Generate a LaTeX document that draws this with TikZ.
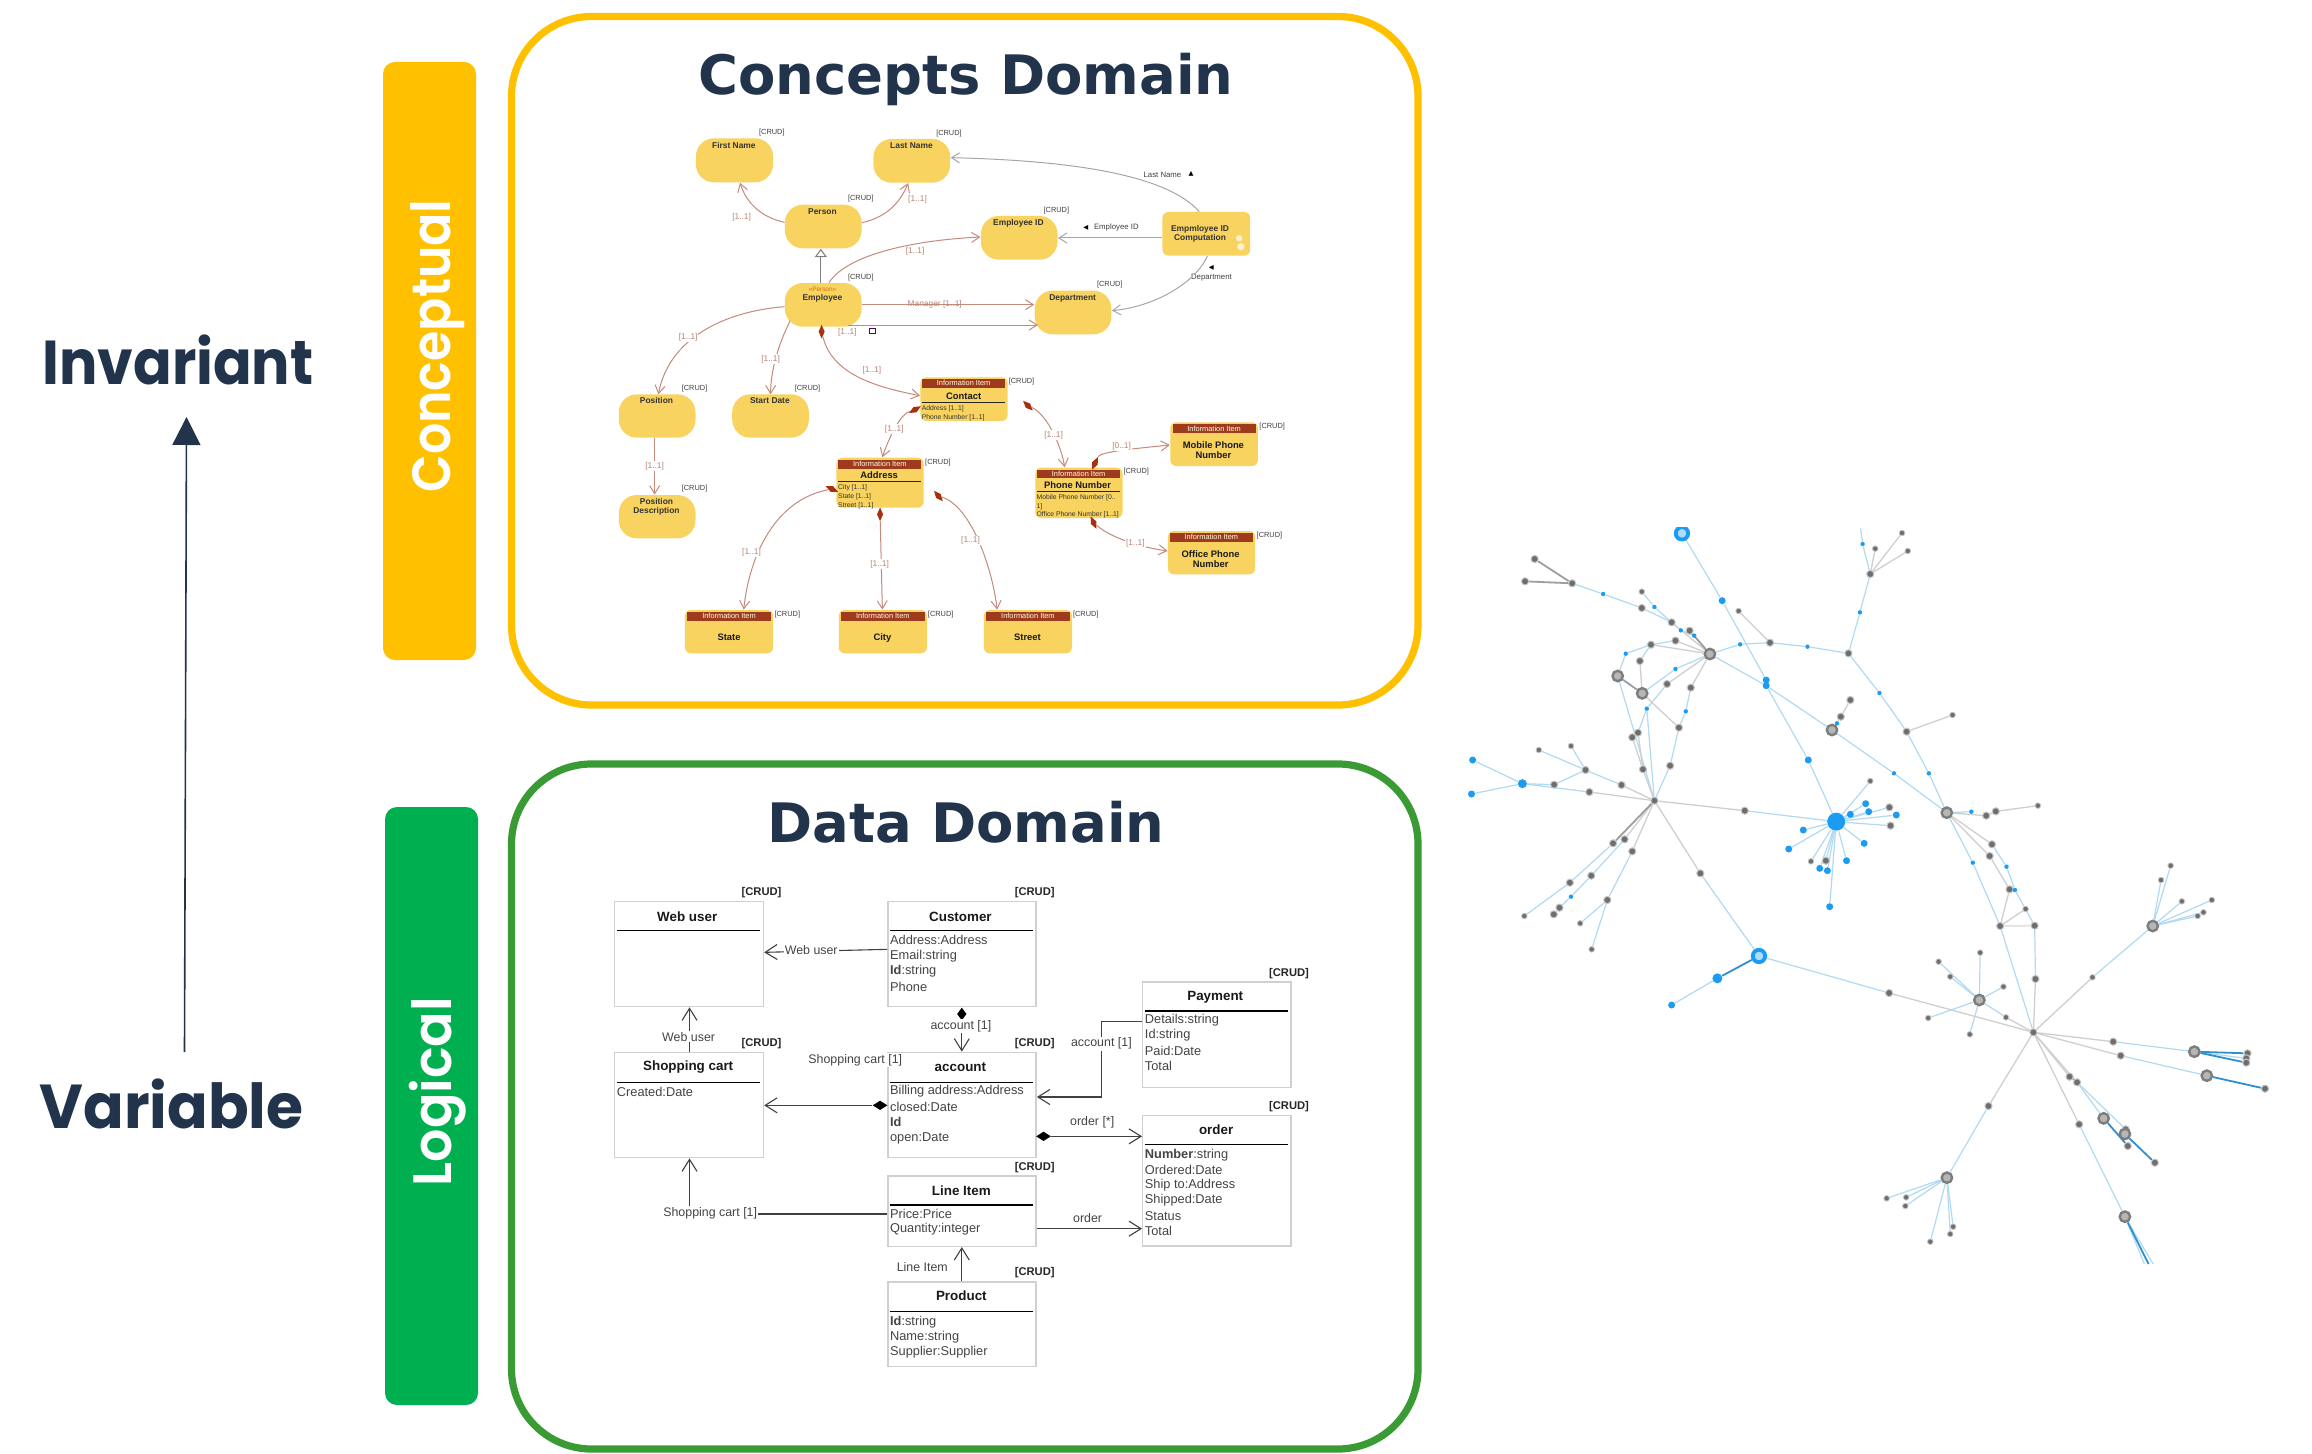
\documentclass[tikz,border=0pt]{standalone}
\usepackage{fontspec}
\setmainfont{Liberation Sans}
\newfontfamily\pop{Poppins}
\newfontfamily\popm{Poppins}[UprightFont=* SemiBold]
\newfontfamily\djv{DejaVu Sans}
\usetikzlibrary{arrows.meta,fit,shapes.geometric}
\definecolor{navy}{HTML}{21344C}
\definecolor{yel}{HTML}{FFC000}
\definecolor{grnbar}{HTML}{00B050}
\definecolor{grnfr}{HTML}{3A9B35}
\definecolor{oval}{HTML}{F8D35F}
\definecolor{hdrc}{HTML}{9E3B1E}
\definecolor{rose}{HTML}{C48A7B}
\definecolor{rosetxt}{HTML}{B98475}
\definecolor{dgem}{HTML}{A8300F}
\definecolor{bluen}{HTML}{1C9BF2}
\definecolor{grayn}{HTML}{6E6E6E}
\definecolor{bedge}{HTML}{B0DAF2}
\definecolor{gedge}{HTML}{CFCFCF}
\definecolor{dbedge}{HTML}{2F8FD0}
\definecolor{umlg}{HTML}{D0D0D0}
\definecolor{txtg}{HTML}{444444}
\pgfdeclarelayer{bg}
\pgfsetlayers{bg,main}
\newcounter{txt}
\newcommand{\lbl}[3][]{\stepcounter{txt}\node[#1] (t\arabic{txt}) at (#2) {#3};}
\newcommand{\G}[3]{\node[#1] (#2) at (#3) {};}
\newcommand{\E}[3]{\draw[#1] (#2) -- (#3);}
\tikzset{
  frame/.style={line width=3.6pt,rounded corners=40pt,inner sep=0pt},
  bar/.style={rounded corners=6pt,inner sep=0pt},
  bart/.style={inner sep=0pt,text=white,font=\popm\fontsize{27}{27}\selectfont},
  bigt/.style={text=navy,font=\pop\bfseries\fontsize{31}{31}\selectfont,inner sep=0pt},
  domt/.style={text=navy,font=\djv\bfseries\fontsize{27.2}{27}\selectfont,inner sep=0pt},
  ybox/.style={fill=oval,inner sep=0pt,rounded corners=9pt},
  ibox/.style={fill=oval,inner sep=0pt,rounded corners=3pt},
  hdrt/.style={inner sep=0pt,text=white!90!yellow,font=\fontsize{3.7}{4}\selectfont},
  hdr/.style={fill=hdrc,inner sep=0pt,label={[hdrt]center:Information Item}},
  ct/.style={inner sep=0pt,text=black!80,font=\bfseries\fontsize{4.2}{5}\selectfont},
  cb/.style={inner sep=0pt,text=black!90,font=\bfseries\fontsize{4.7}{5}\selectfont},
  ca/.style={inner sep=0pt,anchor=west,text=black!80,font=\fontsize{3.4}{4}\selectfont},
  cc/.style={inner sep=0pt,text=black!75,font=\fontsize{3.7}{4}\selectfont},
  cl/.style={inner sep=.4pt,text=rosetxt,font=\fontsize{4.2}{5}\selectfont},
  clw/.style={cl,fill=white},
  cg/.style={inner sep=0pt,text=black!75,font=\fontsize{3.9}{5}\selectfont},
  ce/.style={draw=rose,line width=.5pt,-{Straight Barb[length=4pt,width=5pt]}},
  ceg/.style={draw=black!35,line width=.5pt,-{Straight Barb[length=4pt,width=5pt]}},
  dia/.style={diamond,fill=dgem,inner sep=0pt,minimum width=3.2pt,minimum height=7pt},
  ubox/.style={draw=umlg,line width=.7pt,fill=white,inner sep=0pt},
  ut/.style={inner sep=0pt,text=black!90,font=\bfseries\fontsize{6.7}{8}\selectfont},
  ua/.style={inner sep=0pt,anchor=west,text=txtg,font=\fontsize{6.4}{7}\selectfont},
  uc/.style={inner sep=0pt,anchor=east,text=black!85,font=\bfseries\fontsize{5.6}{7}\selectfont},
  ul/.style={inner sep=.6pt,text=txtg,font=\fontsize{6.2}{7}\selectfont},
  ulw/.style={ul,fill=white},
  ue/.style={draw=black!75,line width=.55pt,-{Straight Barb[length=6pt,width=7.5pt]}},
  udia/.style={diamond,fill=black,inner sep=0pt,minimum width=7.5pt,minimum height=4.8pt},
  udiav/.style={diamond,fill=black,inner sep=0pt,minimum width=4.8pt,minimum height=6.5pt},
  gn/.style={circle,fill=grayn,draw=grayn!40,line width=.5pt,inner sep=0pt,minimum size=3.6pt},
  gs/.style={circle,fill=grayn,draw=grayn!40,line width=.4pt,inner sep=0pt,minimum size=2.8pt},
  gb/.style={circle,fill=grayn!50,draw=grayn!90,line width=1.2pt,inner sep=0pt,minimum size=5.2pt},
  bn/.style={circle,fill=bluen,inner sep=0pt,minimum size=3.5pt},
  bs/.style={circle,fill=bluen,inner sep=0pt,minimum size=2.2pt},
  bb/.style={circle,fill=bluen!35,draw=bluen,line width=1.9pt,inner sep=0pt,minimum size=6.2pt},
  hb/.style={circle,fill=bluen,inner sep=0pt,minimum size=9pt},
  el/.style={draw=bedge,line width=.6pt},
  eg/.style={draw=gedge,line width=.65pt},
  ed/.style={draw=black!38,line width=.9pt},
  eb/.style={draw=dbedge,line width=.9pt},
  ef/.style={draw=black!10,line width=1pt},
}
\begin{document}
\begin{tikzpicture}[x=0.5pt,y=-0.5pt]
\useasboundingbox (0,0) rectangle (2312,1454);
\begin{pgfonlayer}{bg}\fill[white] (0,0) rectangle (2312,1454);\end{pgfonlayer}

% left labels
\node[bigt,anchor=base,xscale=.919] (inv) at (178,385) {Invariant};
\node[bigt,anchor=base,xscale=.967] (var) at (171.5,1128) {Variable};
\coordinate (arS) at (184.5,1052);
\coordinate (arE) at (186.5,417);
\draw[navy,line width=.8pt,-{Triangle[length=14pt,width=14pt]}] (arS) -- (arE);

% bars
\node[bar,fill=yel,fit={(383,62)(476,660)}] (bc) {};
\node[bar,fill=grnbar,fit={(385,807)(478,1405)}] (bl) {};
\node[bart,rotate=90,anchor=base,xscale=.91] (bct) at (450,346) {Conceptual};
\node[bart,rotate=90,anchor=base,xscale=.97] (blt) at (451,1091.5) {Logical};

% frames
\node[frame,draw=yel,fit={(511.5,16.5)(1418,705)}] (fc) {};
\node[frame,draw=grnfr,fit={(511.5,764)(1418,1449)}] (fd) {};
\node[domt,anchor=base] (tc) at (966,95) {Concepts Domain};
\node[domt,anchor=base] (td) at (966,842) {Data Domain};

% ---------- concepts diagram, upper part
\begin{scope}[shift={(640,110)},x=0.20408pt,y=-0.16667pt]
\node[ybox,fit={(137,85)(326,217)}] (first) {};
\node[ybox,fit={(572,87)(760,218)}] (last) {};
\node[ybox,fit={(355,284)(543,415)}] (person) {};
\node[ybox,fit={(835,318)(1023,449)}] (empid) {};
\node[ybox,fit={(355,519)(543,650)}] (emp) {};
\node[ybox,fit={(967,542)(1155,673)}] (dept) {};
\node[ibox,fit={(1280,306)(1495,437)}] (comp) {};
\lbl[ct]{230,106}{First Name}
\lbl[cc]{323,68}{[CRUD]}
\lbl[ct]{665,108}{Last Name}
\lbl[cc]{757,70}{[CRUD]}
\lbl[ct]{447,304}{Person}
\lbl[cc]{541,266}{[CRUD]}
\lbl[ct]{927,339}{Employee ID}
\lbl[cc]{1020,302}{[CRUD]}
\lbl[inner sep=0pt,text=orange!85!black,font=\fontsize{3.2}{4}\selectfont]{447,539}{«Person»}
\lbl[ct]{447,566}{Employee}
\lbl[cc]{541,502}{[CRUD]}
\lbl[ct]{1060,564}{Department}
\lbl[cc]{1151,524}{[CRUD]}
\lbl[ct]{1372,357}{Empmloyee ID}
\lbl[ct]{1372,385}{Computation}
\G{circle,fill=white!70!oval,inner sep=0pt,minimum size=3.2pt}{g1}{1468,385}
\G{circle,fill=white!70!oval,inner sep=0pt,minimum size=3.6pt}{g2}{1472,410}

\draw[ce] (person.west |- 0,337) .. controls (290,320) and (258,270) .. (245,0 |- first.south);
\draw[ce] (person.east |- 0,338) .. controls (610,320) and (640,270) .. (657,0 |- last.south);
\draw[draw=black!50,line width=.55pt,-{Triangle[open,length=4.2pt,width=6pt]}] (443,0 |- emp.north) -- (443,0 |- person.south);
\draw[ce] (463,0 |- emp.north) .. controls (510,430) and (680,390) .. (empid.west |- 0,381);
\draw[ceg] (1370,0 |- comp.north) .. controls (1280,180) and (1000,150) .. (last.east |- 0,143);
\draw[ceg] (comp.west |- 0,384) -- (empid.east |- 0,384);
\draw[ceg] (1390,0 |- comp.south) .. controls (1360,520) and (1260,590) .. (dept.east |- 0,602);
\draw[ce] (emp.east |- 0,584) -- (dept.west |- 0,584);
\draw[ce] (510,0 |- 0,645) -- (975,0 |- 0,645);
\draw[ce] (emp.west |- 0,590) .. controls (200,605) and (70,690) .. (45,853);
\draw[ce] (368,632) .. controls (340,700) and (320,780) .. (320,853);
\G{dia}{de}{445,665}
\lbl[cl]{249,322}{[1..1]}
\lbl[cl]{680,267}{[1..1]}
\lbl[cl]{674,424}{[1..1]}
\lbl[cl]{722,584}{Manager [1..1]}
\lbl[cl]{508,668}{[1..1]}
\G{draw=violet!70!black,line width=.4pt,fill=white,inner sep=0pt,minimum size=2.8pt}{sq}{569,663}
\lbl[clw]{118,681}{[1..1]}
\lbl[clw]{320,747}{[1..1]}
\lbl[cl]{568,781}{[1..1]}
\lbl[cg]{1280,194}{Last Name}
\lbl[inner sep=0pt,font=\djv\fontsize{3.2}{4}\selectfont]{1350,193}{▲}
\lbl[cg]{1167,353}{Employee ID}
\lbl[inner sep=0pt,font=\djv\fontsize{3.2}{4}\selectfont]{1092,353}{◀}
\lbl[cg,fill=white]{1400,503}{Department}
\lbl[inner sep=0pt,font=\djv\fontsize{3.2}{4}\selectfont]{1400,473}{◀}
\end{scope}

% ---------- concepts diagram, lower part
\begin{scope}[shift={(600,370)},x=0.22957pt,y=-0.16667pt]
\node[ybox,fit={(41,73)(208,203)}] (pos) {};
\node[ybox,fit={(288,73)(455,203)}] (start) {};
\node[ybox,fit={(41,375)(208,505)}] (posd) {};
\node[ibox,fit={(698,22)(888,153)}] (contact) {};
\node[ibox,fit={(515,263)(705,413)}] (addr) {};
\node[ibox,fit={(948,293)(1138,444)}] (phone) {};
\node[ibox,fit={(1242,157)(1433,288)}] (mobile) {};
\node[ibox,fit={(1237,483)(1427,613)}] (office) {};
\node[ibox,fit={(185,720)(377,850)}] (state) {};
\node[ibox,fit={(520,720)(712,850)}] (city) {};
\node[ibox,fit={(836,720)(1028,850)}] (street) {};
\node[hdr,fit={(702,27)(882,53)}] (h1) {};
\node[hdr,fit={(519,270)(700,296)}] (h2) {};
\node[hdr,fit={(952,299)(1133,325)}] (h3) {};
\node[hdr,fit={(1247,163)(1428,189)}] (h4) {};
\node[hdr,fit={(1241,489)(1422,515)}] (h5) {};
\node[hdr,fit={(190,726)(372,752)}] (h6) {};
\node[hdr,fit={(525,726)(707,752)}] (h7) {};
\node[hdr,fit={(841,726)(1023,752)}] (h8) {};
\draw[black!85,line width=.4pt] (702,97) -- (882,97);
\draw[black!85,line width=.4pt] (519,335) -- (700,335);
\draw[black!85,line width=.4pt] (952,364) -- (1133,364);
\lbl[ct]{123,92}{Position}
\lbl[cc]{206,55}{[CRUD]}
\lbl[ct]{370,92}{Start Date}
\lbl[cc]{452,55}{[CRUD]}
\lbl[ct]{123,394}{Position}
\lbl[ct]{123,425}{Description}
\lbl[cc]{206,357}{[CRUD]}
\lbl[cb]{792,79}{Contact}
\lbl[ca]{700,116}{Address [1..1]}
\lbl[ca]{700,142}{Phone Number [1..1]}
\lbl[cc]{918,35}{[CRUD]}
\lbl[cb]{608,315}{Address}
\lbl[ca]{518,354}{City [1..1]}
\lbl[ca]{518,381}{State [1..1]}
\lbl[ca]{518,407}{Street [1..1]}
\lbl[cc]{736,277}{[CRUD]}
\lbl[cb]{1040,346}{Phone Number}
\lbl[ca]{950,383}{Mobile Phone Number [0..}
\lbl[ca]{950,409}{1]}
\lbl[ca]{950,435}{Office Phone Number [1..1]}
\lbl[cc]{1168,306}{[CRUD]}
\lbl[cb]{1336,226}{Mobile Phone}
\lbl[cb]{1336,255}{Number}
\lbl[cc]{1464,170}{[CRUD]}
\lbl[cb]{1330,552}{Office Phone}
\lbl[cb]{1330,581}{Number}
\lbl[cc]{1458,496}{[CRUD]}
\lbl[cb]{281,803}{State}
\lbl[cc]{408,734}{[CRUD]}
\lbl[cb]{615,803}{City}
\lbl[cc]{742,734}{[CRUD]}
\lbl[cb]{931,803}{Street}
\lbl[cc]{1058,734}{[CRUD]}
\G{dia,rotate=-60}{d1}{686,119}
\G{dia,rotate=45}{d2}{932,107}
\G{dia,rotate=65}{d3}{505,357}
\G{dia}{d4}{610,433}
\G{dia,rotate=40}{d5}{737,378}
\G{dia,rotate=-25}{d6}{1078,280}
\G{dia,rotate=25}{d7}{1075,458}
\draw[ce] (d1) .. controls (650,135) and (625,220) .. (615,0 |- addr.north);
\draw[ce] (d2) .. controls (975,135) and (1005,230) .. (1012,0 |- phone.north);
\draw[ce] (119,0 |- pos.south) -- (119,0 |- posd.north);
\draw[ce] (d3) .. controls (380,390) and (325,560) .. (313,0 |- state.north);
\draw[ce] (d4) -- (615,0 |- city.north);
\draw[ce] (d5) .. controls (810,410) and (855,600) .. (865,0 |- street.north);
\draw[ce] (d6) .. controls (1090,245) and (1170,235) .. (mobile.west |- 0,225);
\draw[ce] (d7) .. controls (1110,500) and (1170,530) .. (office.west |- 0,543);
\draw[ce] (de) .. controls (505,10) and (595,50) .. (contact.west |- 0,77);
\lbl[clw]{641,177}{[1..1]}
\lbl[clw]{988,195}{[1..1]}
\lbl[clw]{119,288}{[1..1]}
\lbl[clw]{330,547}{[1..1]}
\lbl[clw]{609,582}{[1..1]}
\lbl[clw]{807,512}{[1..1]}
\lbl[clw]{1136,230}{[0..1]}
\lbl[clw]{1166,520}{[1..1]}
\end{scope}

% ---------- UML
\begin{scope}[shift={(600,870)},x=0.22957pt,y=-0.16667pt]
\node[ubox,fit={(32,95)(356,410)}] (web) {};
\node[ubox,fit={(627,95)(950,410)}] (cust) {};
\node[ubox,fit={(1182,336)(1505,652)}] (pay) {};
\node[ubox,fit={(32,547)(356,863)}] (cart) {};
\node[ubox,fit={(627,547)(950,863)}] (acc) {};
\node[ubox,fit={(1182,736)(1505,1128)}] (ord) {};
\node[ubox,fit={(627,918)(950,1129)}] (line) {};
\node[ubox,fit={(627,1236)(950,1490)}] (prod) {};
\foreach \a/\b/\yy in {36/348/182,631/943/182,1186/1498/423,36/348/637,631/943/637,1186/1498/823,631/943/1005,631/943/1325}
  \draw[black,line width=.6pt] (\a,\yy) -- (\b,\yy);
\lbl[ut]{190,140}{Web user}
\lbl[uc]{396,68}{[CRUD]}
\lbl[ut]{785,140}{Customer}
\lbl[uc]{991,68}{[CRUD]}
\lbl[ua]{631,209}{Address:Address}
\lbl[ua]{631,258}{Email:string}
\lbl[ua]{631,305}{\textbf{Id}:string}
\lbl[ua]{631,350}{Phone}
\lbl[ut]{1340,381}{Payment}
\lbl[uc]{1545,310}{[CRUD]}
\lbl[ua]{1186,452}{Details:string}
\lbl[ua]{1186,497}{Id:string}
\lbl[ua]{1186,543}{Paid:Date}
\lbl[ua]{1186,588}{Total}
\lbl[ut]{192,592}{Shopping cart}
\lbl[uc]{396,520}{[CRUD]}
\lbl[ua]{36,665}{Created:Date}
\lbl[ut]{785,592}{account}
\lbl[uc]{991,520}{[CRUD]}
\lbl[ua]{631,665}{Billing address:Address}
\lbl[ua]{631,711}{closed:Date}
\lbl[ua]{631,757}{\textbf{Id}}
\lbl[ua]{631,806}{open:Date}
\lbl[ut]{1342,778}{order}
\lbl[uc]{1545,710}{[CRUD]}
\lbl[ua]{1186,855}{\textbf{Number}:string}
\lbl[ua]{1186,900}{Ordered:Date}
\lbl[ua]{1186,945}{Ship to:Address}
\lbl[ua]{1186,991}{Shipped:Date}
\lbl[ua]{1186,1037}{Status}
\lbl[ua]{1186,1082}{Total}
\lbl[ut]{787,963}{Line Item}
\lbl[uc]{991,892}{[CRUD]}
\lbl[ua]{631,1033}{Price:Price}
\lbl[ua]{631,1079}{Quantity:integer}
\lbl[ut]{787,1278}{Product}
\lbl[uc]{991,1208}{[CRUD]}
\lbl[ua]{631,1356}{\textbf{Id}:string}
\lbl[ua]{631,1401}{Name:string}
\lbl[ua]{631,1447}{Supplier:Supplier}
\G{udiav}{du1}{788,432}
\G{udia}{du2}{610,706}
\G{udia}{du3}{966,799}
\draw[ue] (cust.west |- 0,238) -- (web.east |- 0,247);
\draw[ue] (du1) -- (788,0 |- acc.north);
\draw[ue] (195,0 |- cart.north) -- (195,0 |- web.south);
\draw[ue] (du2) -- (cart.east |- 0,706);
\draw[ue] (pay.west |- 0,455) -| (1093,681) -- (acc.east |- 0,681);
\draw[ue] (du3) -- (ord.west |- 0,799);
\draw[ue] (line.west |- 0,1032) -| (195,0 |- cart.south);
\draw[ue] (line.east |- 0,1076) -- (ord.west |- 0,1076);
\draw[ue] (788,0 |- prod.north) -- (788,0 |- line.south);
\lbl[ulw]{460,241}{Web user}
\lbl[ulw]{786,469}{account [1]}
\lbl[ulw]{193,500}{Web user}
\lbl[ulw]{556,571}{Shopping cart [1]}
\lbl[ulw]{1092,521}{account [1]}
\lbl[ulw]{1072,757}{order [*]}
\lbl[ulw]{240,1030}{Shopping cart [1]}
\lbl[ulw]{1062,1044}{order}
\lbl[ulw]{702,1191}{Line Item}
\end{scope}

% ---------- network, nodes
\begin{scope}
\clip (1400,528) rectangle (2312,1264);
\begin{scope}[shift={(1460,510)},x=0.19135pt,y=-0.16667pt]
\G{bb}{A}{580,70}\G{bn}{B}{685,272}\G{bn}{C1}{800,510}\G{bn}{C2}{800,527}\G{bn}{D}{910,750}\G{hb}{H}{983,935}
\coordinate (T1) at (1047,55);
\G{bs}{T2}{1052,102}\G{gn}{T3}{1072,192}\G{gs}{T4}{1155,69}\G{gs}{T5}{1085,116}\G{gs}{T6}{1170,123}\G{bs}{T7}{1045,307}\G{gn}{T8}{1015,430}
\G{bs}{U1}{908,410}\G{gn}{U2}{810,398}\G{bs}{U3}{732,403}\G{gb}{P}{653,432}\G{gs}{U4}{728,303}
\G{bs}{V1}{1096,549}\G{gn}{V2}{1167,665}\G{gs}{V3}{1287,615}\G{bs}{V4}{1225,790}\G{gb}{R}{1272,908}
\G{gb}{Q}{972,660}\G{bs}{Q1}{1134,790}\G{bs}{Q2}{985,640}\G{gn}{Q3}{995,620}\G{gn}{Q4}{1020,570}
\G{gn}{a1}{293,220}\G{gn}{a2}{195,147}\G{gn}{a3}{170,214}\G{bs}{a4}{374,252}\G{gn}{a5}{475,294}\G{gn}{a6}{553,337}\G{gs}{a7}{475,245}\G{bs}{a8}{508,291}\G{bs}{a9}{577,361}\G{bs}{a10}{612,377}
\G{gn}{a11}{600,362}\G{gn}{a12}{563,392}\G{gn}{a13}{499,404}\G{bs}{a14}{433,431}\G{gb}{a15}{412,498}\G{gn}{a16}{470,453}\G{gb}{a17}{476,550}\G{bs}{a18}{563,477}\G{gn}{a19}{541,522}\G{bs}{a20}{488,596}
\G{gn}{a21}{465,668}\G{gn}{a22}{450,682}\G{gn}{a23}{603,533}\G{bs}{a24}{590,604}\G{gn}{a25}{572,653}\G{gn}{a26}{549,767}\G{gn}{a27}{478,778}
\G{gn}{L}{508,872}
\G{gn}{b1}{422,825}\G{gn}{b2}{328,780}\G{gs}{b3}{290,708}\G{gs}{b4}{206,720}\G{gn}{b5}{246,824}\G{bn,minimum size=4.5pt}{b6}{163,821}\G{bn}{b7}{33,750}\G{bn}{b8}{30,852}\G{gn}{b9}{338,846}
\G{gn}{c1}{744,902}\G{gn}{c2}{400,1000}\G{gn}{c3}{430,988}\G{gn}{c4}{450,1024}\G{gn}{c5}{628,1090}\G{gn}{c6}{287,1118}\G{gs}{c7}{168,1218}\G{gn}{c8}{343,1097}\G{bs}{c9}{290,1160}\G{gn}{c10}{260,1193}\G{gn}{c11}{245,1213}\G{gn}{c12}{385,1170}\G{gs}{c13}{344,1318}\G{gs}{c14}{314,1240}
\G{gs}{h1}{1072,813}\G{bn}{h2}{1060,881}\G{gn}{h3}{1122,892}\G{bn}{h4}{1140,915}\G{bn}{h5}{1068,905}\G{bn}{h6}{1020,913}\G{gn}{h7}{1125,947}\G{bn}{h8}{1056,1000}\G{bn}{h9}{1010,1052}\G{gn}{h10}{956,1052}\G{gs}{h11}{917,1054}\G{bn}{h12}{940,1075}\G{bn}{h13}{960,1082}\G{bn}{h14}{966,1190}\G{bn}{h15}{859,1017}\G{bn}{h16}{897,960}
\G{bs}{r1}{1336,905}\G{gn}{r2}{1375,917}\G{gn}{r3}{1400,904}\G{gs}{r4}{1510,887}\G{gn}{r5}{1390,1003}\G{gn}{r6}{1384,1038}\G{bs}{r7}{1428,1070}\G{bs}{r8}{1340,1058}\G{gn}{r9}{1436,1138}\G{bs}{r10}{1450,1140}\G{gs}{r11}{1478,1197}
\end{scope}
\begin{scope}[shift={(1660,860)},x=0.2079pt,y=-0.16667pt]
\G{gn}{r12}{818,198}\G{gn}{r13}{901,197}\G{gn}{r14}{903,357}
\G{gn}{M}{898,517}
\G{gn}{m1}{790,738}\G{gb}{m2}{690,953}\G{gs}{m3}{545,1015}\G{gs}{m4}{592,1012}\G{gs}{m5}{590,1038}\G{gs}{m6}{650,1145}\G{gs}{m7}{705,1100}\G{gs}{m8}{698,1122}
\G{gn}{m9}{1008,793}\G{gb}{m10}{1118,1070}
\coordinate (m11) at (1165,1212);\coordinate (m12) at (1175,1212);\coordinate (m13) at (1186,1212);
\G{gn}{m14}{985,650}\G{gn}{m15}{1003,667}\G{gb}{m16}{1067,775}\G{gn}{m17}{1120,808}\G{gn}{m18}{1125,858}\G{gb}{m19}{1118,822}\G{gn}{m20}{1190,908}
\G{gn}{m21}{1090,545}\G{gb}{m22}{1285,575}\G{gn}{m23}{1413,580}\G{gn}{m24}{1410,595}\G{gn}{m25}{1410,608}
\G{gn}{m26}{1108,587}\G{gb}{m27}{1315,647}\G{gn}{m28}{1455,686}
\G{gs}{m29}{1040,352}\G{gb}{m30}{1185,198}\G{gs}{m31}{1228,17}\G{gs}{m32}{1205,60}\G{gs}{m33}{1255,124}\G{gs}{m34}{1327,120}\G{gs}{m35}{1307,157}\G{gs}{m36}{1293,168}
\G{gb}{m37}{768,420}\G{gs}{m38}{770,278}\G{gs}{m39}{698,350}\G{gs}{m40}{670,305}\G{gs}{m41}{826,380}\G{gs}{m42}{645,474}\G{gs}{m43}{745,523}\G{gs}{m44}{832,472}
\G{gn}{m45}{551,399}\G{bb}{m46}{238,288}\G{bn,minimum size=5pt}{m47}{138,355}\G{bn}{m48}{28,435}
\end{scope}
\end{scope}

% ---------- network, edges
\begin{pgfonlayer}{bg}
\foreach \p/\q in {A/B,B/C1,C2/D,D/H,T1/T2,T2/T3,T3/T7,T7/T8,T8/U1,U1/U2,U2/U3,U3/P,T8/V1,V1/V2,V2/V4,V4/R,P/C2,C2/Q,Q/Q1,Q1/R,Q/Q2,a1/a4,a4/a5,a5/a6,a7/a8,a8/a9,a9/a10,a10/P,a13/a12,a13/a14,a14/a15,a16/a13,a17/a18,a18/P,a19/a20,a20/a21,a23/a24,a24/a25,a25/a26,a26/L,a15/L,a20/L,b1/b2,b2/b3,b2/b4,b2/b5,b5/b6,b6/b7,b6/b8,b6/b9,c1/H,c2/c6,c6/c7,c3/c8,c8/c9,c9/c10,c10/c11,c4/c12,c12/c13,c12/c14,c5/m46,m46/m45,R/r1,r5/r7,r7/r10,r10/r13,R/r8,r8/r12,r12/M,r13/r14,m1/m2,m2/m3,m2/m4,m2/m5,m2/m6,m2/m7,m2/m8,m9/m10,m15/m16,m15/m17,m21/m22,m26/m27,m29/m30,m30/m31,m30/m32,m30/m33,m30/m34,m30/m35,m30/m36,m37/m38,m37/m39,m37/m40,m37/m41,m37/m42,m37/m43,m37/m44,m47/m48,H/h1,H/h2,H/h3,H/h4,H/h5,H/h6,H/h7,H/h8,H/h9,H/h10,H/h11,H/h12,H/h13,H/h14,H/h15,H/h16,m10/m11,m10/m13,m22/m24}
  {\E{el}{\p}{\q}}
\foreach \p/\q in {T3/T4,T3/T5,T3/T6,U2/U4,V2/V3,R/r2,r2/r3,r3/r4,R/r5,R/r6,Q2/Q3,Q3/Q4,a6/P,a12/P,a13/P,a19/P,a23/P,a16/a17,a17/a25,a21/a27,a22/a27,a27/L,b1/L,b9/L,L/c1,L/c3,L/c4,L/c5,r6/r9,r9/r12,r11/r12,M/m1,M/m9,M/m15,M/m14,M/m21,M/m26,M/m29,M/r14,M/m44,M/m45}
  {\E{eg}{\p}{\q}}
\foreach \p/\q in {a1/a2,a1/a3,a11/P,a15/a17,L/c2,m14/m15}
  {\E{ed}{\p}{\q}}
\foreach \p/\q in {m46/m47,m16/m18,m19/m20,m22/m23,m22/m25,m10/m12,m27/m28}
  {\E{eb}{\p}{\q}}
\E{ef}{r12}{r13}
\end{pgfonlayer}
\end{tikzpicture}
\end{document}
